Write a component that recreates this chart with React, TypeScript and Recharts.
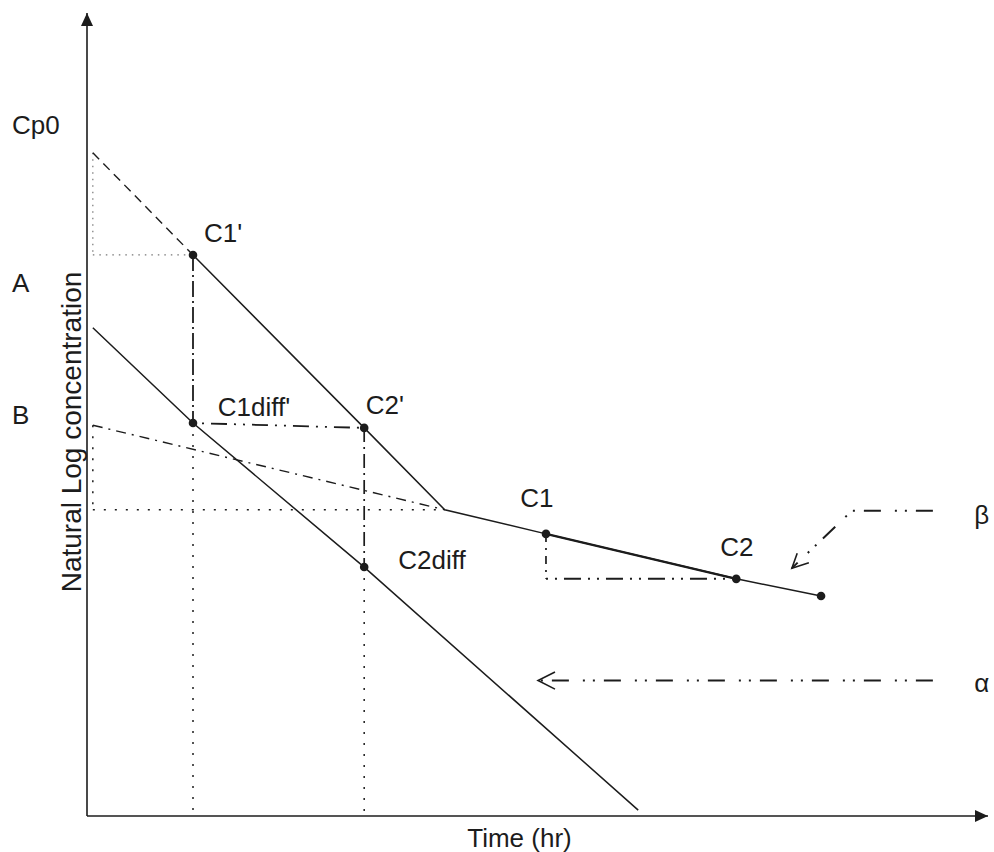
import { ComposedChart, Line, Scatter, XAxis, YAxis } from "recharts";

// chart units: x = time (hr), y = ln concentration (schematic)
const elimination = [
  { x: 2.0, y: 10.48 },
  { x: 5.23, y: 7.25 },
  { x: 6.75, y: 5.72 },
  { x: 8.66, y: 5.27 },
  { x: 12.25, y: 4.43 },
  { x: 13.85, y: 4.11 },
];
const c1c2 = [
  { x: 8.66, y: 5.27 },
  { x: 12.25, y: 4.43 },
];
const backExtrapA = [
  { x: 0.11, y: 12.39 },
  { x: 2.0, y: 10.48 },
];
const residual = [
  { x: 0.11, y: 9.12 },
  { x: 2.0, y: 7.34 },
  { x: 5.23, y: 4.65 },
  { x: 10.4, y: 0.11 },
];
const backExtrapB = [
  { x: 0.11, y: 7.3 },
  { x: 6.75, y: 5.72 },
];

// dotted guides
const guideCp0 = [
  { x: 0.11, y: 12.39 },
  { x: 0.11, y: 10.48 },
];
const guideA = [
  { x: 0.11, y: 10.48 },
  { x: 2.0, y: 10.48 },
];
const guideB = [
  { x: 0.11, y: 7.3 },
  { x: 0.11, y: 5.72 },
];
const guideKnee = [
  { x: 0.11, y: 5.72 },
  { x: 6.75, y: 5.72 },
];
const dropT1 = [
  { x: 2.0, y: 7.34 },
  { x: 2.0, y: 0 },
];
const dropT2 = [
  { x: 5.23, y: 4.65 },
  { x: 5.23, y: 0 },
];

// dash-dot guides
const dropC1p = [
  { x: 2.0, y: 10.48 },
  { x: 2.0, y: 7.34 },
];
const stepDiff = [
  { x: 2.0, y: 7.34 },
  { x: 5.23, y: 7.25 },
];
const dropC2p = [
  { x: 5.23, y: 7.25 },
  { x: 5.23, y: 4.65 },
];
const dropC1 = [
  { x: 8.66, y: 5.27 },
  { x: 8.66, y: 4.43 },
];
const stepC1C2 = [
  { x: 8.66, y: 4.43 },
  { x: 12.25, y: 4.43 },
];

// pointer arrows
const alphaArrow = [
  { x: 15.96, y: 2.53 },
  { x: 8.55, y: 2.53 },
];
const alphaHead = [
  { x: 8.83, y: 2.69 },
  { x: 8.51, y: 2.53 },
  { x: 8.83, y: 2.37 },
];
const betaArrow = [
  { x: 15.96, y: 5.7 },
  { x: 14.43, y: 5.7 },
  { x: 13.3, y: 4.63 },
];
const betaHead = [
  { x: 13.4, y: 4.91 },
  { x: 13.3, y: 4.63 },
  { x: 13.62, y: 4.73 },
];

const samplePoints = [
  { x: 2.0, y: 10.48 },
  { x: 5.23, y: 7.25 },
  { x: 2.0, y: 7.34 },
  { x: 5.23, y: 4.65 },
  { x: 8.66, y: 5.27 },
  { x: 12.25, y: 4.43 },
  { x: 13.85, y: 4.11 },
];

const pointLabels = [
  { x: 2.57, y: 10.89, text: "C1'" },
  { x: 3.15, y: 7.64, text: "C1diff'" },
  { x: 5.62, y: 7.68, text: "C2'" },
  { x: 8.49, y: 5.94, text: "C1" },
  { x: 6.51, y: 4.78, text: "C2diff" },
  { x: 12.26, y: 5.03, text: "C2" },
];
const rateLabels = [
  { x: 16.74, y: 5.62, text: "β" },
  { x: 16.74, y: 2.48, text: "α" },
];

const yTickValues = [12.91, 9.96, 7.49];
const yTickLabels = ["Cp0", "A", "B"];

const axisTop = [{ x: 0, y: 15 }];
const axisRight = [{ x: 17, y: 0 }];

const INK = "#1c1c1c";
const FONT = "'Liberation Sans', Arial, sans-serif";

const seg = (data: { x: number; y: number }[], dash?: string, width = 1.4, color = INK) => (
  <Line
    data={data}
    dataKey="y"
    type="linear"
    stroke={color}
    strokeWidth={width}
    strokeDasharray={dash}
    dot={false}
    activeDot={false}
    isAnimationActive={false}
    legendType="none"
  />
);

export default function App() {
  return (
    <div style={{ position: "absolute", left: 0, top: 0, width: 994, height: 852, background: "#fff" }}>
      <ComposedChart width={994} height={852} margin={{ top: 13, right: 6, left: 0, bottom: 0 }}>
        <XAxis
          type="number"
          dataKey="x"
          domain={[0, 17]}
          tick={false}
          tickLine={false}
          height={36}
          axisLine={{ stroke: INK, strokeWidth: 1.6 }}
          label={{
            content: (p: any) => (
              <text
                x={p.viewBox.x + p.viewBox.width / 2 - 18}
                y={p.viewBox.y + 31}
                textAnchor="middle"
                fontFamily={FONT}
                fontSize={26}
                fill={INK}
              >
                Time (hr)
              </text>
            ),
          }}
        />
        <YAxis
          type="number"
          dataKey="y"
          domain={[0, 15]}
          width={87}
          ticks={yTickValues}
          interval={0}
          tickLine={false}
          axisLine={{ stroke: INK, strokeWidth: 1.6 }}
          tick={(p: any) => (
            <text x={12} y={p.y} dominantBaseline="central" fontFamily={FONT} fontSize={26} fill={INK}>
              {yTickLabels[yTickValues.indexOf(p.payload.value)]}
            </text>
          )}
          label={{
            content: () => {
              const cx = 81;
              const cy = 432;
              return (
                <text
                  x={cx}
                  y={cy}
                  transform={`rotate(-90 ${cx} ${cy})`}
                  textAnchor="middle"
                  fontFamily={FONT}
                  fontSize={28}
                  fill={INK}
                >
                  Natural Log concentration
                </text>
              );
            },
          }}
        />

        {seg(guideCp0, "1.5 5", 1.2, "#777")}
        {seg(guideA, "1.5 5", 1.2, "#777")}
        {seg(guideB, "2 9", 1.5)}
        {seg(guideKnee, "2 9", 1.5)}
        {seg(dropT1, "2 9", 1.5)}
        {seg(dropT2, "2 9", 1.5)}

        {seg(backExtrapA, "9 6", 1.4)}
        {seg(backExtrapB, "10 6 2 6", 1.4)}
        {seg(dropC1p, "16 4 2 4", 1.8)}
        {seg(stepDiff, "2 7 2 7 16 7", 1.8)}
        {seg(dropC2p, "14 5 2 5", 1.7)}
        {seg(dropC1, "8 6 2 6", 1.7)}
        {seg(stepC1C2, "2 7 2 7 17 7", 2)}

        {seg(elimination, undefined, 1.5)}
        {seg(c1c2, undefined, 2.3)}
        {seg(residual, undefined, 1.5)}

        {seg(alphaArrow, "17 9 2 8 2 14", 2)}
        {seg(alphaHead, undefined, 1.6)}
        {seg(betaArrow, "17 9 2 8 2 14", 2)}
        {seg(betaHead, undefined, 1.6)}

        <Scatter
          data={samplePoints}
          dataKey="y"
          fill={INK}
          isAnimationActive={false}
          shape={(p: any) => <circle cx={p.cx} cy={p.cy} r={4.3} fill={INK} />}
        />
        <Scatter
          data={pointLabels}
          dataKey="y"
          isAnimationActive={false}
          shape={(p: any) => (
            <text
              x={p.cx}
              y={p.cy}
              textAnchor="middle"
              dominantBaseline="central"
              fontFamily={FONT}
              fontSize={26}
              fill={INK}
            >
              {p.payload.text}
            </text>
          )}
        />
        <Scatter
          data={rateLabels}
          dataKey="y"
          isAnimationActive={false}
          shape={(p: any) => (
            <text x={p.cx} y={p.cy} dominantBaseline="central" fontFamily={FONT} fontSize={26} fill={INK}>
              {p.payload.text}
            </text>
          )}
        />
        <Scatter
          data={axisTop}
          dataKey="y"
          isAnimationActive={false}
          shape={(p: any) => (
            <polygon points={`${p.cx},${p.cy} ${p.cx - 6},${p.cy + 13} ${p.cx + 6},${p.cy + 13}`} fill={INK} />
          )}
        />
        <Scatter
          data={axisRight}
          dataKey="y"
          isAnimationActive={false}
          shape={(p: any) => (
            <polygon points={`${p.cx},${p.cy} ${p.cx - 13},${p.cy - 6} ${p.cx - 13},${p.cy + 6}`} fill={INK} />
          )}
        />
      </ComposedChart>
    </div>
  );
}
